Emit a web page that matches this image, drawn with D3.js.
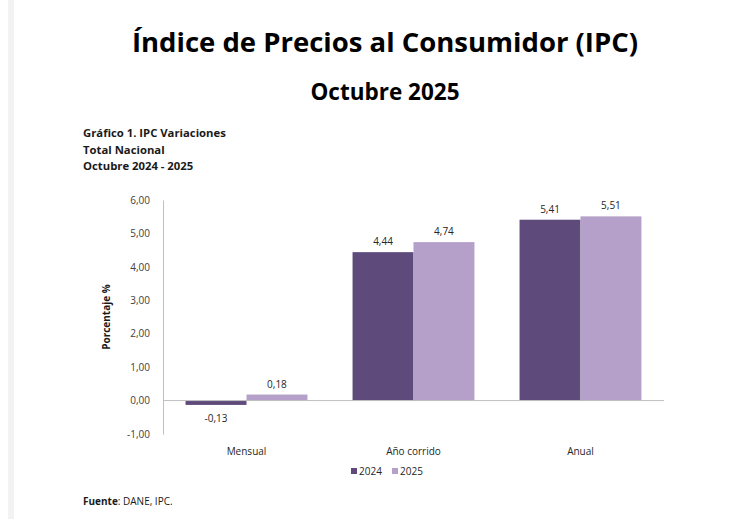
<!DOCTYPE html>
<html>
<head>
<meta charset="utf-8">
<script src="https://cdn.jsdelivr.net/npm/d3@7"></script>
<style>
  body { margin: 0; background: #fff; }
  text { font-family: "Open Sans", sans-serif; }
</style>
</head>
<body>
<script>
// datos del grafico
const categorias = ["Mensual", "Año corrido", "Anual"];
const series = ["2024", "2025"];
const valores2024 = [-0.13, 4.44, 5.41];
const valores2025 = [0.18, 4.74, 5.51];
const ticksY = [-1, 0, 1, 2, 3, 4, 5, 6];

const colores = {"2024": "#5e4a7b", "2025": "#b4a0c8"};

function formato(v){
    return d3.format(".2f")(v).replace(".", ",").replace("−", "-");
}

function main(){
    let width = 742, height = 519;

    let svg = d3.select("body").append("svg")
        .attr("width", width)
        .attr("height", height);

    // franja gris a la izquierda
    svg.append("rect")
        .attr("x", 8).attr("y", 0)
        .attr("width", 6).attr("height", height)
        .attr("fill", "#f2f2f2");

    svg.append("text")
        .attr("x", 385).attr("y", 52)
        .attr("text-anchor", "middle")
        .attr("font-size", 27.5)
        .attr("font-weight", "bold")
        .attr("fill", "#000")
        .text("Índice de Precios al Consumidor (IPC)");

    svg.append("text")
        .attr("x", 385).attr("y", 100)
        .attr("text-anchor", "middle")
        .attr("font-size", 22.5)
        .attr("font-weight", "bold")
        .attr("fill", "#000")
        .text("Octubre 2025");

    let sub = ["Gráfico 1. IPC Variaciones", "Total Nacional", "Octubre 2024 - 2025"];
    svg.selectAll(".sub")
        .data(sub)
        .enter()
        .append("text")
        .attr("class", "sub")
        .attr("x", 83)
        .attr("y", (d, i) => 137 + i * 16.5)
        .attr("font-size", 11.3)
        .attr("font-weight", "bold")
        .attr("fill", "#1a1a1a")
        .text(d => d);

    let left = 163, right = 664;
    let xScale = d3.scaleBand().domain(categorias).range([left, right]);
    let xInner = d3.scaleBand().domain(series)
        .range([0, xScale.bandwidth()])
        .paddingOuter(0.37).paddingInner(0);
    let yScale = d3.scaleLinear().domain([-1, 6]).range([434, 200]);

    // eje Y
    let yAxis = svg.append("g")
        .attr("transform", "translate(" + left + ",0)")
        .call(d3.axisLeft(yScale).tickValues(ticksY).tickSize(0).tickPadding(13)
            .tickFormat(formato));
    yAxis.select(".domain").attr("stroke", "#bfbfbf");
    yAxis.selectAll("text")
        .attr("font-family", "Open Sans, sans-serif")
        .attr("font-size", 10)
        .attr("fill", "#404040");

    svg.append("text")
        .attr("transform", "translate(110," + yScale(2.5) + ") rotate(-90)")
        .attr("text-anchor", "middle")
        .attr("font-size", 10)
        .attr("font-weight", "bold")
        .attr("fill", "#1a1a1a")
        .text("Porcentaje %");

    let datos = categorias.map((c, i) => ({
        cat: c,
        vals: [{s: "2024", v: valores2024[i]}, {s: "2025", v: valores2025[i]}]
    }));

    let grupos = svg.selectAll(".grupo")
        .data(datos)
        .enter()
        .append("g")
        .attr("class", "grupo")
        .attr("transform", d => "translate(" + xScale(d.cat) + ",0)");

    grupos.selectAll("rect")
        .data(d => d.vals)
        .enter()
        .append("rect")
        .attr("x", d => xInner(d.s))
        .attr("width", xInner.bandwidth())
        .attr("y", d => yScale(Math.max(0, d.v)))
        .attr("height", d => Math.abs(yScale(d.v) - yScale(0)))
        .attr("fill", d => colores[d.s]);

    grupos.selectAll(".etq")
        .data(d => d.vals)
        .enter()
        .append("text")
        .attr("class", "etq")
        .attr("x", d => xInner(d.s) + xInner.bandwidth() / 2)
        .attr("y", d => d.v >= 0 ? yScale(d.v) - 7 : yScale(d.v) + 17)
        .attr("text-anchor", "middle")
        .attr("font-size", 10)
        .attr("fill", "#262626")
        .text(d => formato(d.v));

    // linea cero
    svg.append("line")
        .attr("x1", left).attr("x2", right)
        .attr("y1", yScale(0)).attr("y2", yScale(0))
        .attr("stroke", "#bfbfbf");

    // etiquetas de categorias
    svg.selectAll(".cat")
        .data(categorias)
        .enter()
        .append("text")
        .attr("class", "cat")
        .attr("x", d => xScale(d) + xScale.bandwidth() / 2)
        .attr("y", 455)
        .attr("text-anchor", "middle")
        .attr("font-size", 10)
        .attr("fill", "#262626")
        .text(d => d);

    // leyenda
    let leyX = [351, 392];
    let ley = svg.selectAll(".ley")
        .data(series)
        .enter()
        .append("g")
        .attr("class", "ley")
        .attr("transform", (d, i) => "translate(" + leyX[i] + ",468)");
    ley.append("rect")
        .attr("width", 6).attr("height", 6)
        .attr("fill", d => colores[d]);
    ley.append("text")
        .attr("x", 8).attr("y", 7)
        .attr("font-size", 10)
        .attr("fill", "#262626")
        .text(d => d);

    let fuente = svg.append("text")
        .attr("x", 83).attr("y", 505)
        .attr("font-size", 10)
        .attr("fill", "#1a1a1a");
    fuente.append("tspan").attr("font-weight", "bold").text("Fuente");
    fuente.append("tspan").text(": DANE, IPC.");
}

main();
</script>
</body>
</html>
